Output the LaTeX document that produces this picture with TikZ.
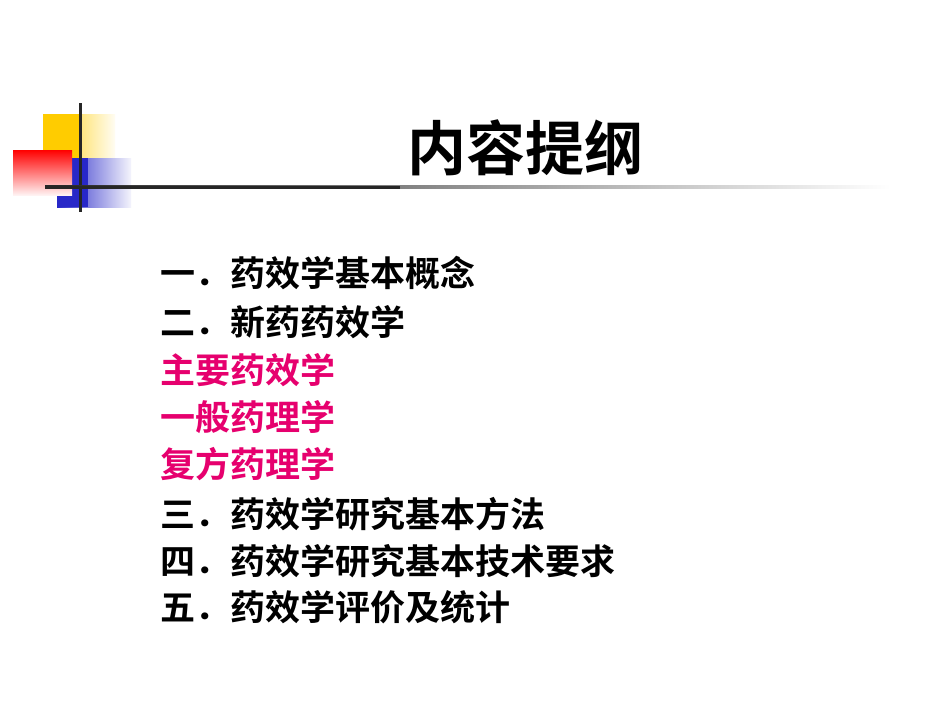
\documentclass[tikz,border=0pt]{standalone}
\usepackage{fontspec}
\newfontfamily\cjk{Noto Sans CJK SC}[BoldFont={Noto Sans CJK SC Bold}]
\definecolor{pinkc}{RGB}{230,0,110}
\definecolor{yel}{RGB}{255,204,0}
\definecolor{blu}{RGB}{40,40,200}
\begin{document}
\begin{tikzpicture}[x=1pt,y=-1pt,
  item/.style={anchor=west,inner sep=0pt,font=\cjk\bfseries\fontsize{35}{35}\selectfont},
  pitem/.style={item,text=pinkc}]
\useasboundingbox[fill=white] (0,0) rectangle (950,713);
\shade[left color=yel,right color=yel!5] (43,114) rectangle (115,158);
\fill[yel] (43,114) rectangle (82,158);
\shade[left color=blu,right color=blu!5] (57,158) rectangle (131,207);
\fill[blu] (57,158) rectangle (88,207);
\shade[shading angle=45,top color=red,bottom color=red!5] (13,150) rectangle (72,195);
\draw[line width=3pt,black!85] (80,103) -- (80,212);
\shade[left color=black!85,right color=white] (45,185.5) rectangle (890,188.5);
\fill[black!85] (45,185.5) rectangle (400,188.5);
\node[inner sep=0pt,font=\cjk\bfseries\fontsize{59}{59}\selectfont] (title) at (525,148) {内容提纲};
\node[item] (i1) at (160,273) {一．药效学基本概念};
\node[item] (i2) at (160,322) {二．新药药效学};
\node[pitem] (i3) at (160,370) {主要药效学};
\node[pitem] (i4) at (160,417) {一般药理学};
\node[pitem] (i5) at (160,464) {复方药理学};
\node[item] (i6) at (160,514) {三．药效学研究基本方法};
\node[item] (i7) at (160,561) {四．药效学研究基本技术要求};
\node[item] (i8) at (160,607) {五．药效学评价及统计};
\end{tikzpicture}
\end{document}
